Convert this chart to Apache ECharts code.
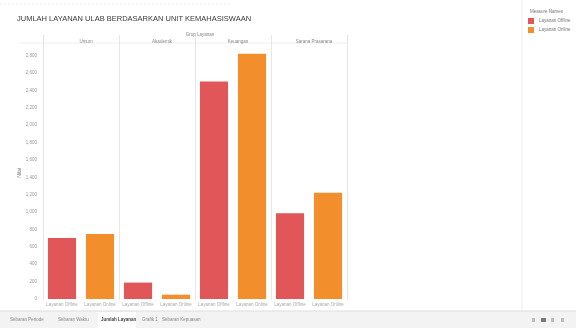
<!DOCTYPE html>
<html><head><meta charset="utf-8">
<script src="https://cdn.jsdelivr.net/npm/echarts@6/dist/echarts.min.js"></script>
<style>html,body{margin:0;padding:0;background:#fff}#c{width:576px;height:328px}</style>
</head><body><div id="c"></div>
<script>
const panels = ['Umum', 'Akademik', 'Keuangan', 'Sarana Prasarana'];
const measures = ['Layanan Offline', 'Layanan Online'];
const offline = [702, 189, 2503, 987];
const online = [749, 50, 2823, 1223];
const yTicks = [0, 200, 400, 600, 800, 1000, 1200, 1400, 1600, 1800, 2000, 2200, 2400, 2600, 2800];
const tabs = ['Sebaran Periode', 'Sebaran Waktu', 'Jumlah Layanan', 'Grafik 1', 'Sebaran Kepuasan'];

const colors = ['#e15759', '#f28e2b'];
const chart = echarts.init(document.getElementById('c'), null, {renderer: 'canvas'});
const PL = 43, PW = 76, TOP = 47, BOT = 29;
const grids = [], xAxes = [], yAxes = [], series = [], titles = [];
panels.forEach((p, i) => {
  grids.push({left: PL + PW * i, width: PW, top: TOP, bottom: BOT});
  xAxes.push({type: 'category', gridIndex: i, data: measures,
    axisLine: {show: false}, axisTick: {show: false},
    axisLabel: {fontSize: 4.5, color: '#aaa', margin: 3, interval: 0}});
  yAxes.push({type: 'value', gridIndex: i, min: 0, max: 2900, interval: 200,
    splitLine: {show: false},
    axisLine: {show: false}, axisTick: {show: false},
    axisLabel: {show: i === 0, fontSize: 4.5, color: '#999', margin: 6, showMaxLabel: false},
    name: i === 0 ? 'Nilai' : '', nameLocation: 'middle', nameGap: 20,
    nameTextStyle: {fontSize: 5, color: '#777'}});
  series.push({name: measures[0], type: 'bar', xAxisIndex: i, yAxisIndex: i, stack: 's' + i,
    barWidth: '74%', itemStyle: {color: colors[0]}, data: [offline[i], '-']});
  series.push({name: measures[1], type: 'bar', xAxisIndex: i, yAxisIndex: i, stack: 's' + i,
    barWidth: '74%', itemStyle: {color: colors[1]}, data: ['-', online[i]]});
  titles.push({text: p, left: PL + PW * i + PW / 2, top: 34, textAlign: 'center',
    textStyle: {fontSize: 4.5, color: '#888', fontWeight: 'normal'}});
});
titles.push({text: 'JUMLAH LAYANAN ULAB BERDASARKAN UNIT KEMAHASISWAAN', left: 12, top: 10,
  textStyle: {fontSize: 7.5, color: '#3a3a3a', fontWeight: 'normal', fontFamily: 'Liberation Sans'}});
titles.push({text: 'Grup Layanan', left: 195, top: 27, textAlign: 'center',
  textStyle: {fontSize: 4.5, color: '#888', fontWeight: 'normal'}});
titles.push({text: 'Measure Names', left: 525, top: 4,
  textStyle: {fontSize: 4.5, color: '#777', fontWeight: 'normal'}});

const graphics = [
  {type: 'line', shape: {x1: 522, y1: 0, x2: 522, y2: 310}, style: {stroke: '#eeeeee', lineWidth: 1}},
  {type: 'line', shape: {x1: 0, y1: 4, x2: 230, y2: 4}, style: {stroke: '#eeeeee', lineWidth: 1, lineDash: [2, 2]}},
  {type: 'line', shape: {x1: 20, y1: 43, x2: 347, y2: 43}, style: {stroke: '#eeeeee', lineWidth: 1}},
  {type: 'rect', shape: {x: 0, y: 311, width: 576, height: 17}, style: {fill: '#f3f3f3'}},
  {type: 'line', shape: {x1: 0, y1: 311, x2: 576, y2: 311}, style: {stroke: '#dddddd', lineWidth: 1}}
];
for (let i = 0; i <= panels.length; i++) {
  const x = PL + PW * i + 0.5;
  graphics.push({type: 'line', shape: {x1: x, y1: 35, x2: x, y2: 300}, style: {stroke: '#e6e6e6', lineWidth: 1}});
}
let tx = 10;
const tabW = [45, 40, 38, 17, 55];
tabs.forEach((t, i) => {
  if (i === 2) graphics.push({type: 'rect', shape: {x: tx - 3, y: 312, width: tabW[i], height: 16}, style: {fill: '#ffffff'}});
  graphics.push({type: 'text', x: tx, y: 320, style: {text: t, fontSize: 4.5, fill: i === 2 ? '#444' : '#888', fontWeight: i === 2 ? 'bold' : 'normal', verticalAlign: 'middle'}});
  tx += tabW[i] + 3;
});
[532, 541, 551, 561].forEach((x, i) => {
  graphics.push({type: 'rect', shape: {x: x, y: 318, width: i === 1 ? 5 : 3, height: 4}, style: {fill: i === 1 ? '#777' : '#bbb'}});
});

chart.setOption({
  animation: false,
  title: titles,
  grid: grids, xAxis: xAxes, yAxis: yAxes, series: series,
  legend: {data: measures, orient: 'vertical', left: 523, top: 13, itemWidth: 6, itemHeight: 6, itemGap: 3,
    icon: 'rect', textStyle: {fontSize: 4.5, color: '#777'}},
  graphic: graphics
});
</script></body></html>
